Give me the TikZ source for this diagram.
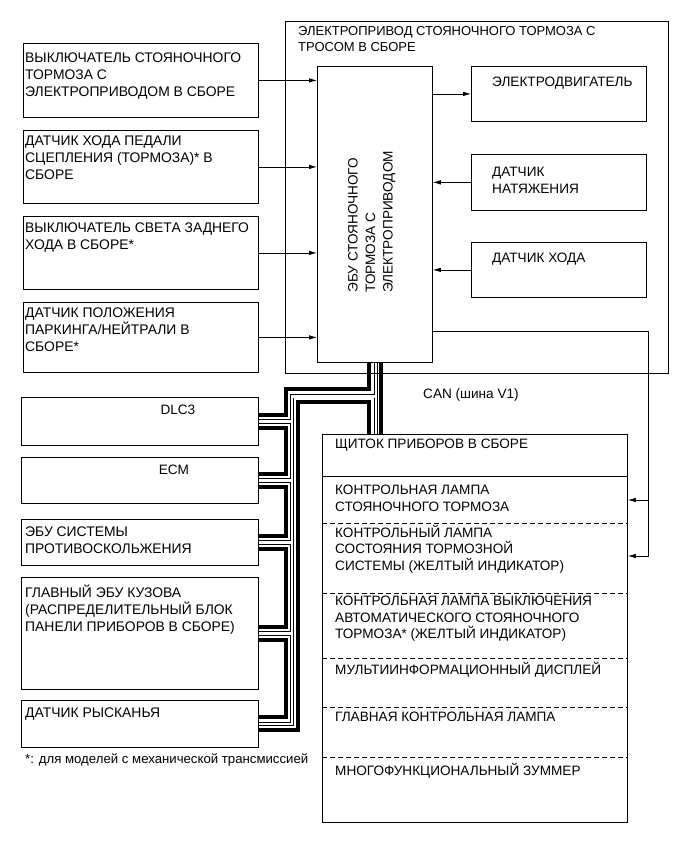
\documentclass[tikz,border=0pt]{standalone}
\usepackage{fontspec}
\setmainfont{Liberation Sans}
\usetikzlibrary{arrows.meta,positioning,calc,backgrounds}

\begin{document}
\begin{tikzpicture}[x=1pt, y=-1pt,
  unit/.style={draw, line width=0.8pt, inner sep=0pt, anchor=north west},
  lbl/.style={inner sep=0pt, align=left, font=\fontsize{13.6}{16.5}\selectfont},
  lblw/.style={lbl, font=\fontsize{13.9}{16.7}\selectfont},
  sig/.style={line width=0.8pt, -{Latex[length=8pt, width=4.5pt]}},
  canh/.style={line width=4pt},
  divider/.style={line width=0.8pt, dash pattern=on 5pt off 3pt}
]
\useasboundingbox (0,0) rectangle (690,854);

% switches and sensors on the left
\node[unit, minimum width=235pt, minimum height=74pt] (pbsw) at (23,43) {};
\node[lblw, below right=10pt and 2pt of pbsw.north west] (pbsw-t) {ВЫКЛЮЧАТЕЛЬ СТОЯНОЧНОГО\\ТОРМОЗА С\\ЭЛЕКТРОПРИВОДОМ В СБОРЕ};
\node[unit, minimum width=235pt, minimum height=73pt] (pedal) at (23,130) {};
\node[lblw, below right=6pt and 2pt of pedal.north west] (pedal-t) {ДАТЧИК ХОДА ПЕДАЛИ\\СЦЕПЛЕНИЯ (ТОРМОЗА)* В\\СБОРЕ};
\node[unit, minimum width=235pt, minimum height=73pt] (bksw) at (23,216) {};
\node[lblw, below right=7pt and 2pt of bksw.north west] (bksw-t) {ВЫКЛЮЧАТЕЛЬ СВЕТА ЗАДНЕГО\\ХОДА В СБОРЕ*};
\node[unit, minimum width=235pt, minimum height=70pt] (pnp) at (23,302) {};
\node[lblw, below right=6pt and 2pt of pnp.north west] (pnp-t) {ДАТЧИК ПОЛОЖЕНИЯ\\ПАРКИНГА/НЕЙТРАЛИ В\\СБОРЕ*};

% actuator assembly
\node[unit, minimum width=383pt, minimum height=352pt] (epb) at (285,21) {};
\node[lbl, font=\fontsize{13}{16.5}\selectfont, below right=5pt and 13pt of epb.north west] (epb-t) {ЭЛЕКТРОПРИВОД СТОЯНОЧНОГО ТОРМОЗА С\\ТРОСОМ В СБОРЕ};
\node[unit, minimum width=115pt, minimum height=296pt] (ecu) at (317,66) {};
\node[lbl, font=\fontsize{13.6}{17.5}\selectfont, rotate=90, anchor=north west] (ecu-t) at ([xshift=31pt, yshift=70pt]ecu.south west) {ЭБУ СТОЯНОЧНОГО\\ТОРМОЗА С\\ЭЛЕКТРОПРИВОДОМ};
\node[unit, minimum width=175pt, minimum height=55pt] (motor) at (471,66) {};
\node[lbl, below right=11pt and 21pt of motor.north west] (motor-t) {ЭЛЕКТРОДВИГАТЕЛЬ};
\node[unit, minimum width=175pt, minimum height=56pt] (tens) at (471,154) {};
\node[lbl, below right=13pt and 21pt of tens.north west] (tens-t) {ДАТЧИК\\НАТЯЖЕНИЯ};
\node[unit, minimum width=175pt, minimum height=55pt] (strk) at (471,242) {};
\node[lbl, below right=11pt and 21pt of strk.north west] (strk-t) {ДАТЧИК ХОДА};

\foreach \s in {pbsw,pedal,bksw,pnp}
  \draw[sig] (\s.east) -- (\s.east -| ecu.west);
\draw[sig] (ecu.east |- motor.west) -- (motor.west);
\draw[sig] (tens.west) -- (tens.west -| ecu.east);
\draw[sig] (strk.west) -- (strk.west -| ecu.east);

% CAN nodes
\node[unit, minimum width=237pt, minimum height=48pt] (dlc) at (21,397) {};
\node[lbl, below=8pt of dlc.north, xshift=38pt] (dlc-t) {DLC3};
\node[unit, minimum width=237pt, minimum height=46pt] (ecm) at (21,457) {};
\node[lbl, below=8pt of ecm.north, xshift=34pt] (ecm-t) {ECM};
\node[unit, minimum width=237pt, minimum height=46pt] (vsc) at (21,519) {};
\node[lblw, below right=8pt and 4pt of vsc.north west] (vsc-t) {ЭБУ СИСТЕМЫ\\ПРОТИВОСКОЛЬЖЕНИЯ};
\node[unit, minimum width=237pt, minimum height=112pt] (mbe) at (21,577) {};
\node[lblw, below right=8pt and 4pt of mbe.north west] (mbe-t) {ГЛАВНЫЙ ЭБУ КУЗОВА\\(РАСПРЕДЕЛИТЕЛЬНЫЙ БЛОК\\ПАНЕЛИ ПРИБОРОВ В СБОРЕ)};
\node[unit, minimum width=237pt, minimum height=47pt] (yaw) at (21,700) {};
\node[lblw, below right=8pt and 4pt of yaw.north west] (yaw-t) {ДАТЧИК РЫСКАНЬЯ};
\node[lbl, font=\fontsize{13.2}{15}\selectfont, below right=6pt and 4pt of yaw.south west] (note) {*: для моделей с механической трансмиссией};

% combination meter
\node[unit, minimum width=305pt, minimum height=388pt] (ipc) at (322,434) {};
\node[lbl, below right=5pt and 13pt of ipc.north west] (ipc-t) {ЩИТОК ПРИБОРОВ В СБОРЕ};
\node[lbl, below right=51pt and 13pt of ipc.north west] (pbl) {КОНТРОЛЬНАЯ ЛАМПА\\СТОЯНОЧНОГО ТОРМОЗА};
\node[lbl, below right=91pt and 13pt of ipc.north west] (brl) {КОНТРОЛЬНЫЙ ЛАМПА\\СОСТОЯНИЯ ТОРМОЗНОЙ\\СИСТЕМЫ (ЖЕЛТЫЙ ИНДИКАТОР)};
\node[lbl, below right=162pt and 13pt of ipc.north west] (aut) {КОНТРОЛЬНАЯ ЛАМПА ВЫКЛЮЧЕНИЯ\\АВТОМАТИЧЕСКОГО СТОЯНОЧНОГО\\ТОРМОЗА* (ЖЕЛТЫЙ ИНДИКАТОР)};
\node[lbl, below right=228pt and 13pt of ipc.north west] (mid) {МУЛЬТИИНФОРМАЦИОННЫЙ ДИСПЛЕЙ};
\node[lbl, below right=278pt and 13pt of ipc.north west] (mwl) {ГЛАВНАЯ КОНТРОЛЬНАЯ ЛАМПА};
\node[lbl, below right=329pt and 13pt of ipc.north west] (buz) {МНОГОФУНКЦИОНАЛЬНЫЙ ЗУММЕР};
\draw[line width=0.8pt] (ipc.west |- 0,476) -- (ipc.east |- 0,476);
\foreach \y in {523,593,658,707,757}
  \draw[divider] (ipc.west |- 0,\y) -- (ipc.east |- 0,\y);

\draw[sig] (ecu.east |- 0,331) -| (648,556) -- (ipc.east |- 0,556);
\draw[sig] (648,500) -- (ipc.east |- 0,500);

\node[lbl, anchor=west] (can) at (423,395) {CAN (шина V1)};

% bus lines
\begin{scope}[on background layer]
\draw[canh] ([xshift=-5.5pt]ecu.south) |- ([xshift=27pt,yshift=32pt]dlc.east)
  -- ([xshift=27pt,yshift=6.5pt]dlc.east) -- ([yshift=6.5pt]dlc.east);
\foreach \a/\b in {dlc/ecm, ecm/vsc, vsc/mbe, mbe/yaw}
  \draw[canh] ([yshift=-6.5pt]\a.east) -| ([xshift=27pt,yshift=6.5pt]\b.east) -- ([yshift=6.5pt]\b.east);
\draw[canh] ([yshift=-6.5pt]yaw.east) -| ([xshift=39pt,yshift=-39pt]yaw.east |- ecu.south)
  -| ([xshift=-5.5pt]ecu.south |- ipc.north);
\draw[canh] ([xshift=6pt]ecu.south) -- ([xshift=6pt]ecu.south |- ipc.north);
\foreach \w/\c in {4.2pt/black, 2.4pt/white} {
  \draw[line width=\w, \c] ([xshift=1pt]ecu.south) -- ([xshift=1pt]ecu.south |- ipc.north);
  \draw[line width=\w, \c] ([xshift=1pt,yshift=-33.5pt]ecu.south) -| ([xshift=33pt]yaw.east) -- (yaw.east);
  \foreach \d in {dlc,ecm,vsc,mbe}
    \draw[line width=\w, \c] (\d.east) -- ++(33,0);
}
\end{scope}
\end{tikzpicture}
\end{document}
